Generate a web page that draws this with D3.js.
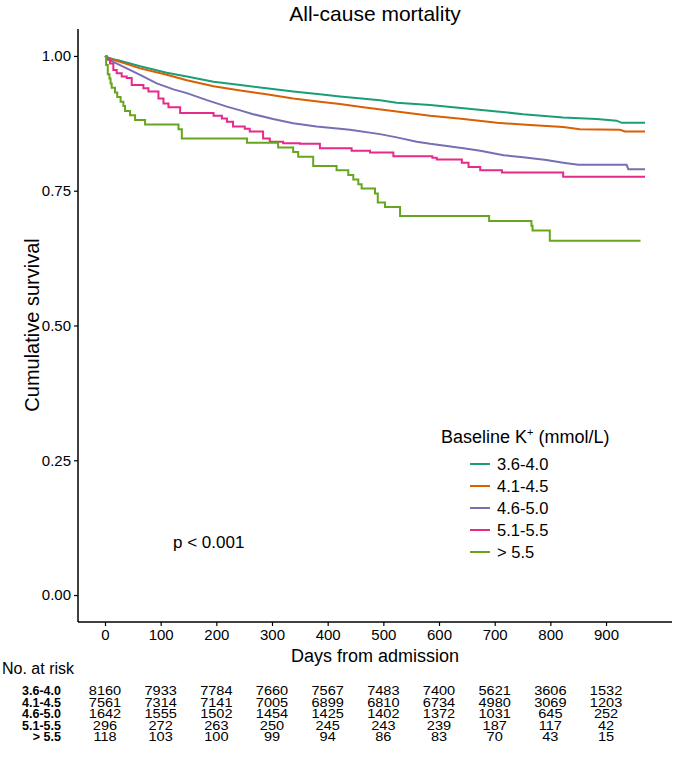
<!DOCTYPE html>
<html><head><meta charset="utf-8">
<script src="https://cdn.jsdelivr.net/npm/d3@7"></script>
<style>body{margin:0;background:#fff}svg{display:block}text{font-family:"Liberation Sans",Arial,sans-serif;fill:#000}</style>
</head><body>
<script>
// ---- data ----
const groups = ["3.6-4.0", "4.1-4.5", "4.6-5.0", "5.1-5.5", "> 5.5"];
const colors = ["#1b9e77", "#d95f02", "#7570b3", "#e7298a", "#66a61e"];
const xTicks = [0, 100, 200, 300, 400, 500, 600, 700, 800, 900];
const yTicks = [0, 0.25, 0.5, 0.75, 1];

const t1 = [0, 5, 15, 27, 63, 111, 147, 195, 243, 290, 338, 386, 422, 494, 524, 584, 644, 704, 751, 823, 883, 919, 928, 970];
const s1 = [1, 0.997, 0.994, 0.991, 0.981, 0.969, 0.962, 0.952, 0.946, 0.940, 0.934, 0.929, 0.925, 0.918, 0.913, 0.909, 0.903, 0.897, 0.892, 0.886, 0.883, 0.880, 0.876, 0.876];
const t2 = [0, 5, 15, 27, 63, 111, 147, 195, 243, 290, 338, 386, 422, 464, 524, 584, 644, 704, 763, 823, 853, 925, 934, 970];
const s2 = [1, 0.996, 0.993, 0.989, 0.977, 0.965, 0.955, 0.944, 0.936, 0.929, 0.921, 0.915, 0.911, 0.905, 0.897, 0.889, 0.883, 0.876, 0.872, 0.868, 0.864, 0.863, 0.860, 0.860];
const t3 = [0, 5, 15, 39, 63, 93, 123, 147, 183, 219, 243, 266, 302, 338, 380, 422, 440, 494, 524, 560, 584, 644, 674, 716, 751, 793, 823, 850, 937, 940, 970];
const s3 = [1, 0.995, 0.989, 0.977, 0.965, 0.949, 0.938, 0.931, 0.918, 0.906, 0.899, 0.892, 0.883, 0.875, 0.869, 0.865, 0.863, 0.855, 0.849, 0.841, 0.837, 0.829, 0.824, 0.816, 0.812, 0.807, 0.802, 0.798, 0.798, 0.790, 0.790];
const t4 = [0, 3, 9, 15, 21, 30, 39, 48, 69, 78, 96, 105, 114, 135, 195, 210, 219, 230, 251, 260, 284, 296, 320, 350, 386, 443, 476, 518, 588, 596, 641, 653, 674, 713, 823, 970];
const s4 = [1, 0.993, 0.986, 0.974, 0.968, 0.962, 0.959, 0.946, 0.940, 0.934, 0.921, 0.912, 0.905, 0.894, 0.889, 0.884, 0.878, 0.869, 0.865, 0.860, 0.847, 0.841, 0.838, 0.837, 0.829, 0.824, 0.821, 0.814, 0.811, 0.808, 0.802, 0.794, 0.788, 0.784, 0.776, 0.776];
const t5 = [0, 2, 5, 8, 10, 12, 18, 22, 28, 33, 36, 45, 54, 72, 132, 138, 255, 311, 338, 347, 374, 416, 437, 446, 455, 461, 485, 490, 503, 530, 690, 766, 768, 799, 962];
const s5 = [1, 0.983, 0.966, 0.958, 0.949, 0.941, 0.932, 0.924, 0.915, 0.907, 0.898, 0.890, 0.881, 0.873, 0.864, 0.847, 0.839, 0.830, 0.822, 0.813, 0.796, 0.788, 0.779, 0.771, 0.762, 0.754, 0.745, 0.728, 0.720, 0.703, 0.694, 0.685, 0.676, 0.657, 0.657];

const riskTimes = [0, 100, 200, 300, 400, 500, 600, 700, 800, 900];
const risk1 = [8160, 7933, 7784, 7660, 7567, 7483, 7400, 5621, 3606, 1532];
const risk2 = [7561, 7314, 7141, 7005, 6899, 6810, 6734, 4980, 3069, 1203];
const risk3 = [1642, 1555, 1502, 1454, 1425, 1402, 1372, 1031, 645, 252];
const risk4 = [296, 272, 263, 250, 245, 243, 239, 187, 117, 42];
const risk5 = [118, 103, 100, 99, 94, 86, 83, 70, 43, 15];

const times = [t1, t2, t3, t4, t5];
const survs = [s1, s2, s3, s4, s5];
const risks = [risk1, risk2, risk3, risk4, risk5];

// ---- drawing ----
const W = 675, H = 763;
const svg = d3.select("body").append("svg").attr("width", W).attr("height", H);
const x = d3.scaleLinear().domain([-48.5, 1018.5]).range([78, 672]);
const y = d3.scaleLinear().domain([-0.05, 1.05]).range([622, 29]);

svg.append("text").attr("x", 375).attr("y", 21).attr("text-anchor", "middle")
  .attr("font-size", 21).text("All-cause mortality");

// curves
const line = d3.line().x(d => x(d[0])).y(d => y(d[1]));
times.forEach((tt, i) => {
  const pts = tt.map((t, j) => [t, survs[i][j]]);
  svg.append("path").datum(pts)
    .attr("d", line.curve(i < 3 ? d3.curveLinear : d3.curveStepAfter))
    .attr("fill", "none").attr("stroke", colors[i]).attr("stroke-width", 2);
});

// axes
const yAxis = svg.append("g").attr("transform", "translate(78,0)")
  .call(d3.axisLeft(y).tickValues(yTicks).tickFormat(d3.format(".2f")).tickSizeOuter(0).tickSize(4).tickPadding(3));
const xAxis = svg.append("g").attr("transform", "translate(0,622)")
  .call(d3.axisBottom(x).tickValues(xTicks).tickSizeOuter(0).tickSize(4).tickPadding(3));
[yAxis, xAxis].forEach(a => {
  a.select(".domain").attr("stroke", "#000").attr("stroke-width", 1.5);
  a.selectAll(".tick line").attr("stroke", "#000").attr("stroke-width", 1.2);
  a.selectAll(".tick text").attr("font-size", 15).attr("fill", "#000")
    .attr("font-family", '"Liberation Sans",Arial,sans-serif');
});
yAxis.select(".domain").attr("d", "M0,29V622");
xAxis.select(".domain").attr("d", "M78,0H672");

svg.append("text").attr("transform", "translate(39,325) rotate(-90)").attr("text-anchor", "middle")
  .attr("font-size", 20).text("Cumulative survival");
svg.append("text").attr("x", 375).attr("y", 662).attr("text-anchor", "middle")
  .attr("font-size", 18).text("Days from admission");

// p-value
svg.append("text").attr("x", 173).attr("y", 548).attr("font-size", 17).text("p < 0.001");

// legend
const lg = svg.append("g");
const lt = lg.append("text").attr("x", 441).attr("y", 443).attr("font-size", 18);
lt.append("tspan").text("Baseline K");
lt.append("tspan").attr("font-size", 11).attr("dy", -7).text("+");
lt.append("tspan").attr("dy", 7).text(" (mmol/L)");
groups.forEach((g, i) => {
  const yy = 464 + i * 22;
  lg.append("line").attr("x1", 470).attr("x2", 490).attr("y1", yy).attr("y2", yy)
    .attr("stroke", colors[i]).attr("stroke-width", 2);
  lg.append("text").attr("x", 497).attr("y", yy + 6).attr("font-size", 16.5).text(g);
});

// risk table
svg.append("text").attr("x", 2).attr("y", 674).attr("font-size", 16).text("No. at risk");
groups.forEach((g, i) => {
  const yy = 695 + i * 11.6;
  svg.append("text").attr("x", 61).attr("y", yy).attr("text-anchor", "end")
    .attr("font-size", 12.5).attr("font-weight", "bold").text(g);
  risks[i].forEach((v, j) => {
    svg.append("text").attr("transform", `translate(${x(riskTimes[j])},${yy}) scale(1.12,1)`)
      .attr("text-anchor", "middle").attr("font-size", 13).text(v);
  });
});
</script>
</body></html>
